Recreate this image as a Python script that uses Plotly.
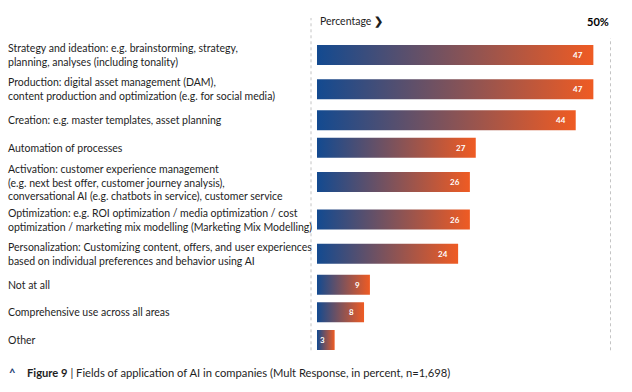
import plotly.graph_objects as go

categories = [
    "Strategy and ideation: e.g. brainstorming, strategy,<br>planning, analyses (including tonality)",
    "Production: digital asset management (DAM),<br>content production and optimization (e.g. for social media)",
    "Creation: e.g. master templates, asset planning",
    "Automation of processes",
    "Activation: customer experience management<br>(e.g. next best offer, customer journey analysis),<br>conversational AI (e.g. chatbots in service), customer service",
    "Optimization: e.g. ROI optimization / media optimization / cost<br>optimization / marketing mix modelling (Marketing Mix Modelling)",
    "Personalization: Customizing content, offers, and user experiences<br>based on individual preferences and behavior using AI",
    "Not at all",
    "Comprehensive use across all areas",
    "Other",
]
values = [47, 47, 44, 27, 26, 26, 24, 9, 8, 3]
axis_max = 50
header_label = "Percentage"
caption_bold = "Figure 9"
caption_text = "Fields of application of AI in companies (Mult Response, in percent, n=1,698)"

FONT = "Lato"
TEXT = "#1e1e1e"
BLUE = "#134a90"
ORANGE = "#ef5b23"

W, H = 632, 392
L, R, T = 317, 21, 39
PAD = 16          # px above first / below last row centre
HALF = 10         # half bar thickness, px

# row centres: spacing grows with number of label lines (1 y-unit = 1 px)
nlines = [c.count("<br>") + 1 for c in categories]
centres = [0.0]
for a, b in zip(nlines[:-1], nlines[1:]):
    centres.append(centres[-1] + 21 + 3.3 * (a + b))
span = centres[-1] + 2 * PAD
B = H - T - span
plot_w = W - L - R

fig = go.Figure()

for cat, v, c in zip(categories, values, centres):
    fig.add_trace(go.Scatter(
        x=[0, v, v, 0, 0],
        y=[c - HALF, c - HALF, c + HALF, c + HALF, c - HALF],
        mode="lines",
        line=dict(width=0),
        fill="toself",
        fillgradient=dict(type="horizontal", colorscale=[[0, BLUE], [1, ORANGE]]),
        hoverinfo="skip",
        showlegend=False,
    ))
    fig.add_annotation(
        x=v, y=c, xref="x", yref="y", text=f"<b>{v}</b>", showarrow=False,
        xanchor="right", xshift=-8, font=dict(family=FONT, size=8, color="white"),
    )
    fig.add_annotation(
        x=0, y=c, xref="paper", yref="y", text=cat, showarrow=False,
        xanchor="left", align="left", xshift=-(L - 6),
        font=dict(family=FONT, size=10.5, color=TEXT),
    )


def py(px):
    """paper y for a pixel row measured from the top of the figure"""
    return (H - B - px) / span


def pxx(px):
    return (px - L) / plot_w


# header
fig.add_annotation(x=pxx(318), y=py(22), xref="paper", yref="paper", yanchor="middle",
                   text=header_label + " <b>❯</b>", showarrow=False, xanchor="left",
                   font=dict(family=FONT, size=10.5, color=TEXT))
fig.add_annotation(x=pxx(611), y=py(22), xref="paper", yref="paper", yanchor="middle",
                   text=f"<b>{axis_max}%</b>", showarrow=False, xanchor="right",
                   font=dict(family=FONT, size=11, color="#000"))
# caption
fig.add_annotation(x=pxx(7), y=py(372), xref="paper", yref="paper", yanchor="middle",
                   text=(f"<b><span style='color:#1d3f73'>^</span></b>    "
                         f"<b>{caption_bold}</b> | {caption_text}"),
                   showarrow=False, xanchor="left",
                   font=dict(family=FONT, size=11.2, color=TEXT))

# dotted guide lines
fig.add_shape(type="line", xref="paper", yref="paper", x0=pxx(311), x1=pxx(311),
              y0=py(350), y1=py(18), line=dict(color="#c4c4c4", width=1, dash="dot"))
fig.add_shape(type="line", xref="paper", yref="paper", x0=pxx(610.5), x1=pxx(610.5),
              y0=py(350), y1=py(38), line=dict(color="#c4c4c4", width=1, dash="dot"))

fig.update_xaxes(range=[0, axis_max], visible=False, fixedrange=True)
fig.update_yaxes(range=[centres[-1] + PAD, -PAD], visible=False, fixedrange=True)

fig.update_layout(
    width=W, height=H,
    margin=dict(l=L, r=R, t=T, b=B),
    paper_bgcolor="white", plot_bgcolor="rgba(0,0,0,0)",
    font=dict(family=FONT, color=TEXT),
)

fig.write_html("out.html", config={"displayModeBar": False},
               post_script="document.body.style.margin='0';")
